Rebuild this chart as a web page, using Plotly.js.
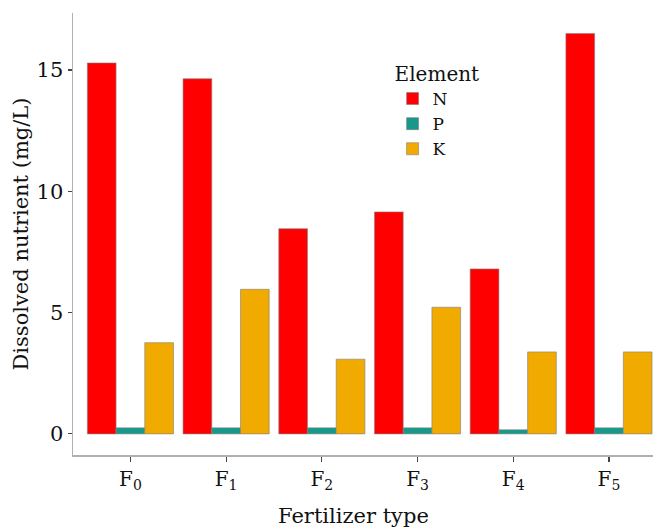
<!DOCTYPE html>
<html>
<head>
<meta charset="utf-8">
<script src="https://cdn.plot.ly/plotly-3.0.1.min.js"></script>
<style>html,body{margin:0;padding:0;background:#fff;}#chart{width:653px;height:529px;}</style>
</head>
<body>
<div id="chart"></div>
<script>
var categories = ["F<sub>0</sub>", "F<sub>1</sub>", "F<sub>2</sub>", "F<sub>3</sub>", "F<sub>4</sub>", "F<sub>5</sub>"];
var seriesNames = ["N", "P", "K"];
var valuesN = [15.29, 14.64, 8.46, 9.15, 6.8, 16.5];
var valuesP = [0.25, 0.25, 0.25, 0.25, 0.17, 0.25];
var valuesK = [3.76, 5.96, 3.08, 5.22, 3.38, 3.38];
var colors = ["#FF0000", "#16998A", "#F0AA00"];
var yTicks = [0, 5, 10, 15];
var xTitle = "Fertilizer type";
var yTitle = "Dissolved nutrient (mg/L)";
var legendTitle = "Element";

var allValues = [valuesN, valuesP, valuesK];
var traces = seriesNames.map(function (name, i) {
  return {
    type: "bar",
    name: name,
    x: categories,
    y: allValues[i],
    marker: {color: colors[i], line: {color: "#808080", width: 0.6}},
    hoverinfo: "skip"
  };
});

var font = "DejaVu Serif";
var layout = {
  width: 653,
  height: 529,
  margin: {l: 73, r: 0, t: 13, b: 74},
  paper_bgcolor: "#fff",
  plot_bgcolor: "#fff",
  barmode: "group",
  bargap: 0.1,
  bargroupgap: 0,
  font: {family: font, size: 20, color: "#111"},
  showlegend: true,
  legend: {
    x: 0.551, y: 0.905, xanchor: "left", yanchor: "top",
    title: {text: legendTitle, font: {family: font, size: 20}},
    font: {family: font, size: 17},
    tracegroupgap: 0,
    itemwidth: 30,
    bgcolor: "rgba(0,0,0,0)"
  },
  xaxis: {
    type: "category",
    range: [-0.6, 5.46],
    showline: true, linecolor: "#b0b0b0", linewidth: 1.5,
    ticks: "outside", ticklen: 5, tickcolor: "#444", tickwidth: 1.2,
    showgrid: false, zeroline: false,
    tickfont: {family: font, size: 20}
  },
  yaxis: {
    range: [-0.87, 17.35],
    tickvals: yTicks,
    ticktext: yTicks.map(String),
    showline: true, linecolor: "#b0b0b0", linewidth: 1.5,
    ticks: "outside", ticklen: 4, tickcolor: "#444", tickwidth: 1.2,
    showgrid: false, zeroline: false,
    tickfont: {family: font, size: 21},
    title: {text: yTitle, font: {family: font, size: 21}, standoff: 2}
  },
  annotations: [{
    text: xTitle, xref: "paper", yref: "paper",
    x: 0.484, y: 0, yshift: -75, xanchor: "center", yanchor: "bottom",
    showarrow: false, font: {family: font, size: 21, color: "#111"}
  }]
};

Plotly.newPlot("chart", traces, layout, {displayModeBar: false, staticPlot: true});
</script>
</body>
</html>
